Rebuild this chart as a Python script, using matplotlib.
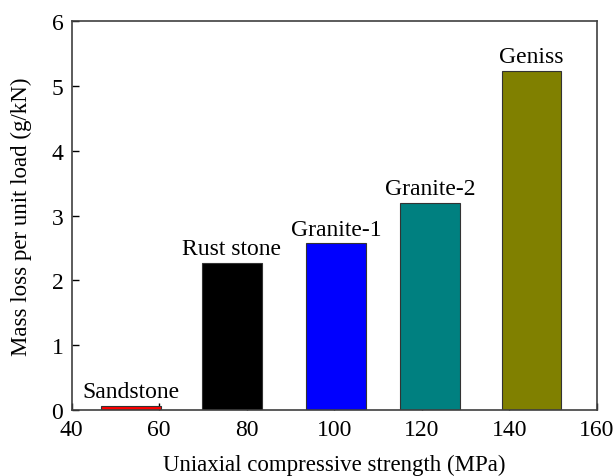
import matplotlib
matplotlib.use("Agg")
import matplotlib.pyplot as plt

# Rock types, uniaxial compressive strength (MPa) and mass loss per unit load (g/kN)
rocks = ["Sandstone", "Rust stone", "Granite-1", "Granite-2", "Geniss"]
ucs = [53.5, 76.6, 100.4, 121.9, 145.1]
mass_loss = [0.07, 2.27, 2.57, 3.20, 5.22]
colors = ["#ff0000", "#000000", "#0000ff", "#008080", "#808000"]
bar_width = 13.7

plt.rcParams["font.family"] = ["Liberation Serif", "DejaVu Serif"]

fig = plt.figure(figsize=(6.16, 4.77), dpi=100)
ax = fig.add_axes([0.1164, 0.1377, 0.8523, 0.8168])

ax.bar(ucs, mass_loss, width=bar_width, color=colors, edgecolor="#333333",
       linewidth=0.8, zorder=2)

for x, h, name in zip(ucs, mass_loss, rocks):
    ax.text(x, h + 0.06, name, ha="center", va="bottom", fontsize=17, zorder=3)

ax.set_xlim(40, 160)
ax.set_ylim(0, 6)
ax.set_xticks([40, 60, 80, 100, 120, 140, 160])
ax.set_yticks([0, 1, 2, 3, 4, 5, 6])
ax.tick_params(direction="in", length=5, width=1, labelsize=17, pad=6,
               top=False, right=False, zorder=4)
for sp in ax.spines.values():
    sp.set_linewidth(1.2)
    sp.set_color("#404040")
    sp.set_zorder(4)

ax.set_xlabel("Uniaxial compressive strength (MPa)", fontsize=16.5, labelpad=10)
ax.set_ylabel("Mass loss per unit load (g/kN)", fontsize=16.5, labelpad=14)

fig.savefig("out.png", dpi=100)
